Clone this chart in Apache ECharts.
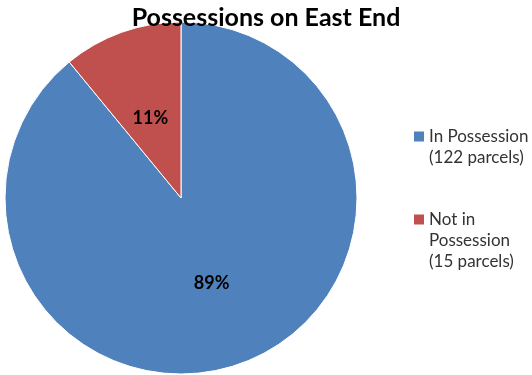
<!DOCTYPE html>
<html>
<head>
<meta charset="utf-8">
<script src="https://cdn.jsdelivr.net/npm/echarts@6/dist/echarts.min.js"></script>
<style>
html, body { margin: 0; padding: 0; background: #fff; }
#chart { width: 532px; height: 375px; }
</style>
</head>
<body>
<div id="chart"></div>
<script>
const categories = ["In Possession", "Not in Possession"];
const legendLines = [["In Possession", "(122 parcels)"], ["Not in", "Possession", "(15 parcels)"]];
const values = [122, 15];
const colors = ["#4F81BD", "#C0504D"];

// pad with blank lines above so the icon sits beside the first line
function legendLabel(i) {
    const lines = legendLines[i];
    const pad = [];
    for (let k = 1; k < lines.length; k++) pad.push("");
    return pad.concat(lines).join("\n");
}

const legendText = {
    fontFamily: "Lato",
    fontSize: 17,
    lineHeight: 21,
    color: "#333",
};

function makeLegend(i, top) {
    return {
        left: 414,
        top: top,
        padding: 0,
        itemWidth: 10,
        itemHeight: 10,
        itemGap: 0,
        icon: "rect",
        itemStyle: { borderWidth: 0 },
        data: [categories[i]],
        formatter: function () {
            return legendLabel(i);
        },
        textStyle: legendText,
    };
}

const chart = echarts.init(document.getElementById("chart"));
const option = {
    animation: false,
    title: {
        text: "Possessions on East End",
        left: "center",
        top: 0,
        textStyle: {
            fontFamily: "Lato",
            fontWeight: "bold",
            fontSize: 25,
            color: "#000",
        },
    },
    legend: [makeLegend(0, 105), makeLegend(1, 167)],
    series: [
        {
            type: "pie",
            center: [181, 198],
            radius: [0, 176],
            startAngle: 90,
            clockwise: true,
            itemStyle: {
                borderColor: "#fff",
                borderWidth: 1,
            },
            label: {
                show: true,
                position: "inside",
                formatter: function (p) {
                    return Math.round(p.percent) + "%";
                },
                fontFamily: "Lato",
                fontWeight: "bold",
                fontSize: 18,
                color: "#000",
            },
            labelLine: { show: false },
            data: categories.map(function (name, i) {
                return {
                    name: name,
                    value: values[i],
                    itemStyle: { color: colors[i] },
                    label: i === 1 ? { offset: [0, 6] } : {},
                };
            }),
        },
    ],
};
chart.setOption(option);
</script>
</body>
</html>
